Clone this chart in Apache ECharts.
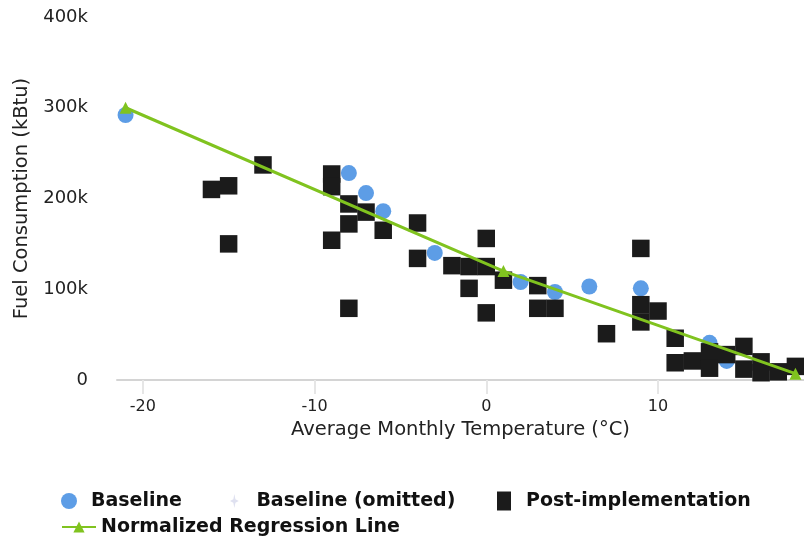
<!DOCTYPE html>
<html>
<head>
<meta charset="utf-8">
<script src="https://cdn.jsdelivr.net/npm/echarts@6/dist/echarts.min.js"></script>
<style>
html,body{margin:0;padding:0;background:#fff;}
#chart{width:804px;height:538px;}
</style>
</head>
<body>
<div id="chart"></div>
<script>
// ---- data ----
var xTicks = [-20, -10, 0, 10];
var yTicks = [0, 100000, 200000, 300000, 400000];

var baselineTemp = [-21, -8, -7, -6, -3, 2, 4, 6, 9, 13, 14];
var baselineFuel = [292000, 228000, 206000, 186000, 140000, 108000, 97000, 103000, 101000, 41000, 21000];

var omittedTemp = [];
var omittedFuel = [];

var postTemp = [-16, -15, -15, -13, -9, -9, -9, -8, -8, -8, -7, -6, -4, -4, -2, -1, -1, 0, 0, 0, 1, 3, 3, 4, 7, 9, 9, 9, 10, 11, 11, 12, 13, 13, 14, 15, 15, 16, 16, 17, 18];
var postFuel = [210000, 214000, 150000, 237000, 227000, 213000, 154000, 194000, 172000, 79000, 185000, 165000, 173000, 134000, 126000, 125000, 101000, 156000, 125000, 74000, 110000, 104000, 79000, 79000, 51000, 145000, 83000, 64000, 76000, 46000, 19000, 21000, 31000, 13000, 28000, 37000, 12000, 20000, 8000, 9000, 15000];

var regTemp = [-21, 1, 18];
var regFuel = [300000, 120000, 7000];

var seriesNames = ['Baseline', 'Baseline (omitted)', 'Post-implementation', 'Normalized Regression Line'];

function pairs(xs, ys) {
  var out = [];
  for (var i = 0; i < xs.length; i++) out.push([xs[i], ys[i]]);
  return out;
}

var FONT = 'DejaVu Sans';
var legendText = {fontFamily: FONT, fontSize: 19, fontWeight: 'bold', color: '#111', lineHeight: 20};

var chart = echarts.init(document.getElementById('chart'), null, {renderer: 'canvas'});
chart.setOption({
  animation: false,
  backgroundColor: '#ffffff',
  grid: {left: 117, right: -1, top: 17, bottom: 158},
  xAxis: {
    type: 'value',
    min: -21.5,
    max: 18.5,
    name: 'Average Monthly Temperature (°C)',
    nameLocation: 'middle',
    nameGap: 32,
    nameTextStyle: {fontFamily: FONT, fontSize: 19.5, color: '#222'},
    splitLine: {show: false},
    axisLine: {show: true, lineStyle: {color: '#d4d4d4', width: 2}},
    axisTick: {show: true, customValues: xTicks, length: 14, lineStyle: {color: '#e6e6e6', width: 2}},
    axisLabel: {customValues: xTicks, margin: 19, fontFamily: FONT, fontSize: 16, color: '#222'}
  },
  yAxis: {
    type: 'value',
    min: 0,
    max: 400000,
    interval: 100000,
    name: 'Fuel Consumption (kBtu)',
    nameLocation: 'middle',
    nameGap: 84,
    nameTextStyle: {fontFamily: FONT, fontSize: 19.5, color: '#222'},
    splitLine: {show: false},
    axisLine: {show: false},
    axisTick: {show: false},
    axisLabel: {
      margin: 29, fontFamily: FONT, fontSize: 18, color: '#222',
      formatter: function (v) { return v === 0 ? '0' : (v / 1000) + 'k'; }
    }
  },
  legend: [
    {left: 56, top: 486, itemWidth: 34, itemHeight: 16, textStyle: legendText,
     data: [{name: seriesNames[0], icon: 'circle'}]},
    {left: 225, top: 486, itemWidth: 34, itemHeight: 14, textStyle: legendText,
     data: [{name: seriesNames[1], icon: 'path://M5,0 L6.2,6 L10,8 L6.2,10 L5,16 L3.8,10 L0,8 L3.8,6 Z', itemStyle: {color: '#dfe1f0', opacity: 1}}]},
    {left: 492, top: 486, itemWidth: 34, itemHeight: 19, textStyle: legendText,
     data: [{name: seriesNames[2], icon: 'path://M0,0 H14 V19 H0 Z'}]},
    {left: 56, top: 512, itemWidth: 34, itemHeight: 14, textStyle: legendText,
     data: [{name: seriesNames[3]}]}
  ],
  series: [
    {
      name: seriesNames[0], type: 'scatter', symbol: 'circle', symbolSize: 16,
      itemStyle: {color: '#5d9de6', opacity: 1},
      data: pairs(baselineTemp, baselineFuel), z: 2
    },
    {
      name: seriesNames[1], type: 'scatter', symbol: 'diamond', symbolSize: 10,
      itemStyle: {color: '#dfe1f0', opacity: 1},
      data: pairs(omittedTemp, omittedFuel), z: 2
    },
    {
      name: seriesNames[2], type: 'scatter', symbol: 'rect', symbolSize: 17.5,
      itemStyle: {color: '#1b1b1b', opacity: 1},
      data: pairs(postTemp, postFuel), z: 3
    },
    {
      name: seriesNames[3], type: 'line', symbol: 'triangle', symbolSize: 12, showSymbol: true,
      lineStyle: {color: '#80c31f', width: 3},
      itemStyle: {color: '#80c31f', opacity: 1},
      data: pairs(regTemp, regFuel), z: 4
    }
  ]
});
</script>
</body>
</html>
